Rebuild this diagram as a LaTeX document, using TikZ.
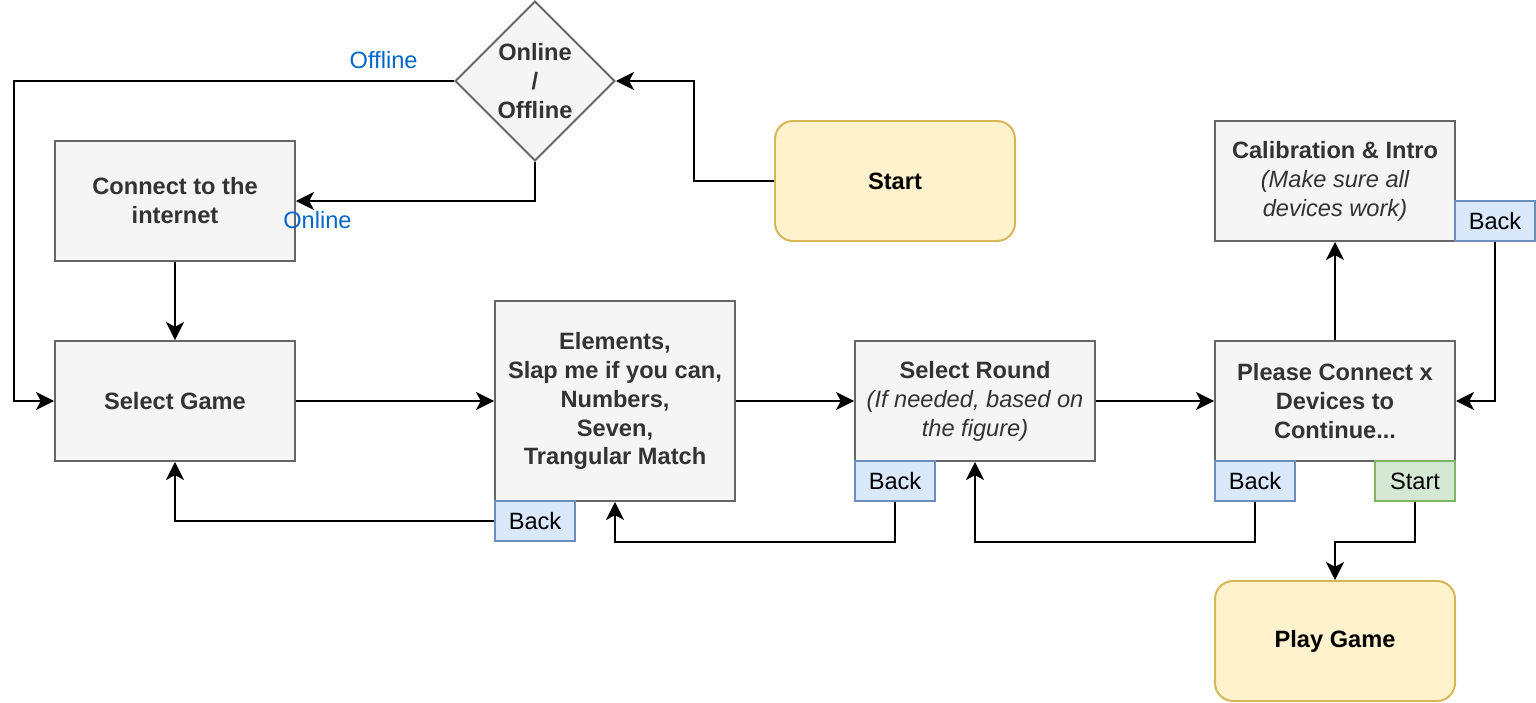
\documentclass[tikz,border=0pt]{standalone}
\usepackage{fontspec}
\setmainfont{Liberation Sans}
\usepackage{tikz}
\usetikzlibrary{arrows.meta,shapes.geometric}

\definecolor{boxfill}{HTML}{F5F5F5}
\definecolor{boxline}{HTML}{666666}
\definecolor{boxtext}{HTML}{333333}
\definecolor{yellowfill}{HTML}{FFF2CC}
\definecolor{yellowline}{HTML}{D6B656}
\definecolor{bluefill}{HTML}{DAE8FC}
\definecolor{blueline}{HTML}{6C8EBF}
\definecolor{greenfill}{HTML}{D5E8D4}
\definecolor{greenline}{HTML}{82B366}
\definecolor{lblblue}{HTML}{0066CC}

\begin{document}
\begin{tikzpicture}[
  box/.style={rectangle, draw=boxline, fill=boxfill, line width=1.4pt, minimum width=6cm, minimum height=3cm, align=center, text=boxtext, font=\bfseries\fontsize{16.8}{20.6}\selectfont},
  diam/.style={diamond, draw=boxline, fill=boxfill, line width=1.4pt, minimum width=4cm, minimum height=4cm, inner sep=0pt, align=center, text=boxtext, font=\bfseries\fontsize{16.8}{20.6}\selectfont},
  startbox/.style={rectangle, rounded corners=0.45cm, draw=yellowline, fill=yellowfill, line width=1.4pt, minimum width=6cm, minimum height=3cm, font=\bfseries\fontsize{16.8}{20.6}\selectfont},
  back/.style={rectangle, draw=blueline, fill=bluefill, line width=1.4pt, minimum width=2cm, minimum height=1cm, font=\fontsize{16.8}{20.6}\selectfont},
  go/.style={back, draw=greenline, fill=greenfill},
  lbl/.style={text=lblblue, inner sep=2pt, font=\fontsize{16.8}{20.6}\selectfont},
  arr/.style={line width=1.4pt, -{Stealth[length=0.45cm, width=0.45cm, inset=0.12cm]}}
]
\useasboundingbox (-0.375,0.025) rectangle (38.025,-17.525);

\node[diam] (online) at (13,-2) {Online\\/\\Offline};
\node[startbox] (start) at (22,-4.5) {Start};
\node[box] (connect) at (4,-5) {Connect to the\\internet};
\node[box] (game) at (4,-10) {Select Game};
\node[box, minimum height=5cm] (games) at (15,-10) {Elements,\\Slap me if you can,\\Numbers,\\Seven,\\Trangular Match};
\node[box] (round) at (24,-10) {Select Round\\{\mdseries\itshape(If needed, based on}\\{\mdseries\itshape the figure)}};
\node[box] (connectx) at (33,-10) {Please Connect x\\Devices to\\Continue...};
\node[box] (calib) at (33,-4.5) {Calibration \& Intro\\{\mdseries\itshape(Make sure all}\\{\mdseries\itshape devices work)}};
\node[startbox] (play) at (33,-16) {Play Game};

\node[back] (backgames) at (13,-13) {Back};
\node[back] (backround) at (22,-12) {Back};
\node[back] (backconnect) at (31,-12) {Back};
\node[go] (startgame) at (35,-12) {Start};
\node[back] (backcalib) at (37,-5.5) {Back};

\draw[arr] (start.west) -- ++(-2,0) |- (online.east);
\draw[arr] (online.west) -- node[lbl, above=6pt, pos=0.16] {Offline} ++(-11,0) |- (game.west);
\draw[arr] (online.south) |- node[lbl, below=5pt, pos=0.955] {Online} (connect.east);
\draw[arr] (connect) -- (game);

\draw[arr] (game) -- (games);
\draw[arr] (backgames.west) -| (game.south);
\draw[arr] (games) -- (round);
\draw[arr] (backround.south) -- ++(0,-1) -| (games.south);

\draw[arr] (round) -- (connectx);
\draw[arr] (backconnect.south) -- ++(0,-1) -| (round.south);
\draw[arr] (connectx) -- (calib);
\draw[arr] (backcalib.south) |- (connectx.east);
\draw[arr] (startgame.south) -- ++(0,-1) -| (play.north);

\end{tikzpicture}
\end{document}
